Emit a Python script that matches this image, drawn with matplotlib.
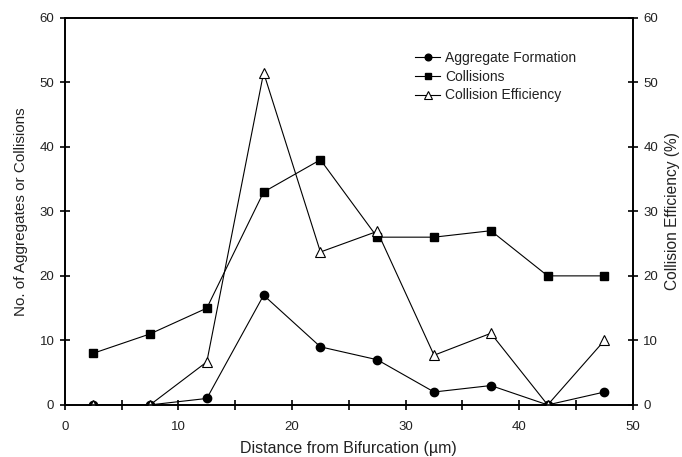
import numpy as np
import matplotlib
matplotlib.use('Agg')
import matplotlib.pyplot as plt
from matplotlib.ticker import MultipleLocator

plt.rcParams['font.family'] = ['Liberation Sans', 'DejaVu Sans']

# distance bins (um)
distance = [2.5, 7.5, 12.5, 17.5, 22.5, 27.5, 32.5, 37.5, 42.5, 47.5]
aggregates = [0, 0, 1, 17, 9, 7, 2, 3, 0, 2]
collisions = [8, 11, 15, 33, 38, 26, 26, 27, 20, 20]
efficiency = [0, 0, 6.67, 51.5, 23.7, 26.9, 7.7, 11.1, 0, 10]

txt = '#222222'

fig = plt.figure(figsize=(6.82, 4.57), dpi=100)
ax = fig.add_axes([0.095, 0.114, 0.833, 0.847])
ax2 = ax.twinx()

ax.plot(distance, aggregates, color='black', lw=0.8, marker='o', ms=6,
        mfc='black', mec='black', label='Aggregate Formation')
ax.plot(distance, collisions, color='black', lw=0.8, marker='s', ms=6,
        mfc='black', mec='black', label='Collisions')
ax2.plot(distance, efficiency, color='black', lw=0.8, marker='^', ms=6.5,
         mfc='white', mec='black', mew=0.8, label='Collision Efficiency')

ax.set_xlim(0, 50)
ax.set_ylim(0, 60)
ax2.set_ylim(0, 60)
ax.xaxis.set_major_locator(MultipleLocator(10))
ax.xaxis.set_minor_locator(MultipleLocator(5))
ax.yaxis.set_major_locator(MultipleLocator(10))
ax2.yaxis.set_major_locator(MultipleLocator(10))

for a in (ax, ax2):
    for s in a.spines.values():
        s.set_linewidth(1.2)
ax.tick_params(axis='both', which='both', direction='inout', width=1.2,
               labelsize=9.5, labelcolor=txt)
ax.tick_params(axis='x', which='major', length=7, pad=8)
ax.tick_params(axis='x', which='minor', length=7)
ax.tick_params(axis='y', length=7, pad=4)
ax2.tick_params(axis='y', direction='inout', length=7, width=1.2,
                labelsize=9.5, pad=4, labelcolor=txt)

ax.set_xlabel('Distance from Bifurcation (\u00b5m)', fontsize=11.5,
              labelpad=6, color=txt)
ax.set_ylabel('No. of Aggregates or Collisions', fontsize=11,
              labelpad=8, color=txt)
ax2.set_ylabel('Collision Efficiency (%)', fontsize=11.2, labelpad=5,
               color=txt)

h1, l1 = ax.get_legend_handles_labels()
h2, l2 = ax2.get_legend_handles_labels()
leg = ax2.legend(h1 + h2, l1 + l2, loc='upper left',
                 bbox_to_anchor=(0.6, 0.94), frameon=False, fontsize=10,
                 handlelength=1.8, handletextpad=0.35, labelspacing=0.35,
                 borderpad=0.2, markerscale=0.8)
for t in leg.get_texts():
    t.set_color(txt)

fig.savefig('out.png', dpi=100)
